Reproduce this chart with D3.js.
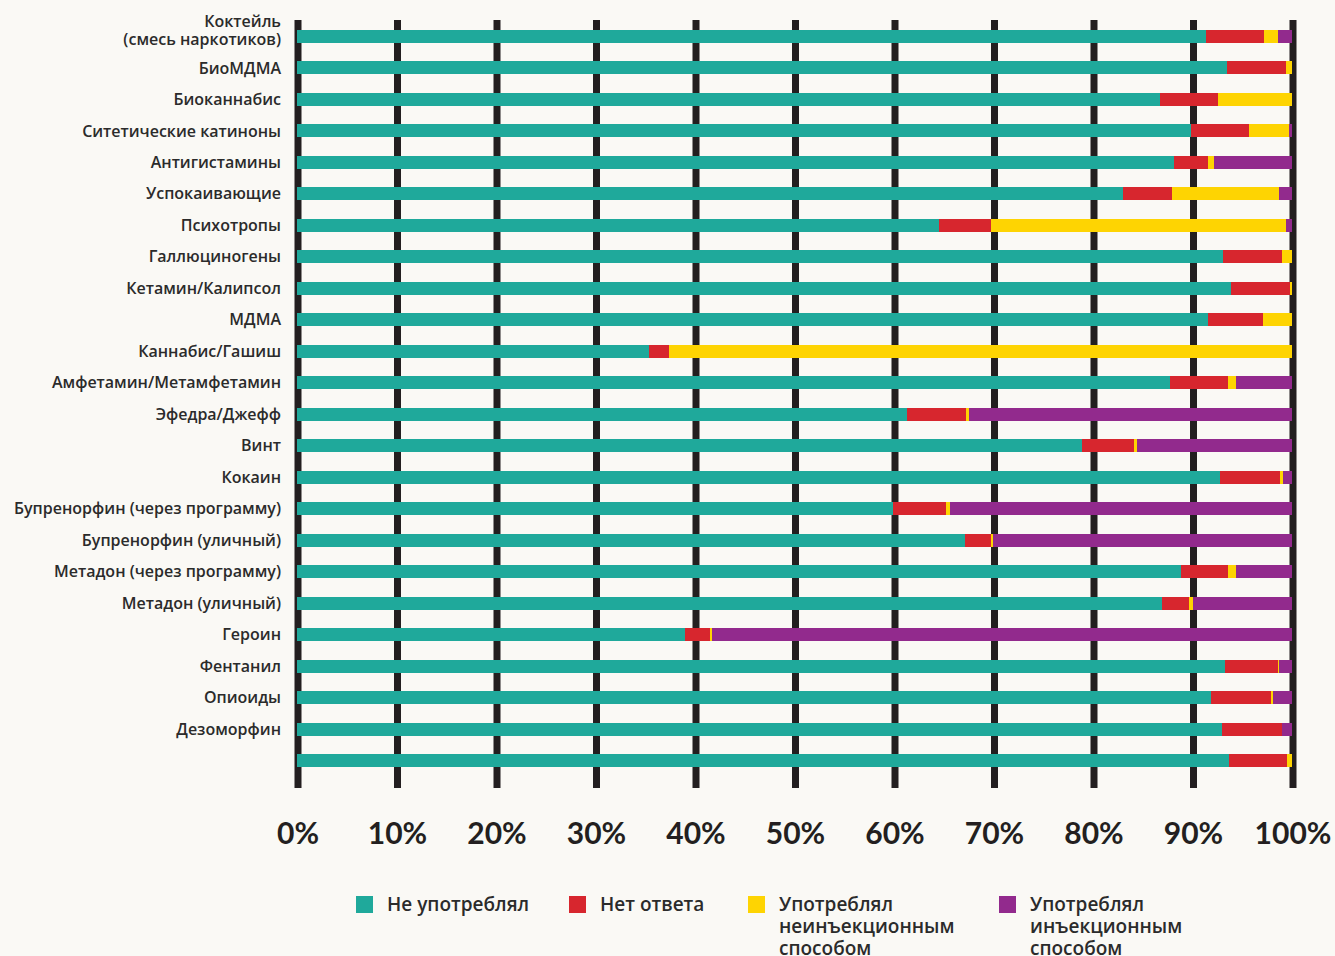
<!DOCTYPE html>
<html>
<head>
<meta charset="utf-8">
<script src="https://cdn.jsdelivr.net/npm/d3@7"></script>
<style>
  html, body { margin: 0; padding: 0; background: #faf9f5; }
  svg { display: block; }
</style>
</head>
<body>
<svg id="chart" width="1335" height="956"></svg>
<script>
// категории (последняя полоса в оригинале без подписи)
const categories = [
  "Коктейль\n(смесь наркотиков)", "БиоМДМА", "Биоканнабис", "Ситетические катиноны",
  "Антигистамины", "Успокаивающие", "Психотропы", "Галлюциногены",
  "Кетамин/Калипсол", "МДМА", "Каннабис/Гашиш", "Амфетамин/Метамфетамин",
  "Эфедра/Джефф", "Винт", "Кокаин", "Бупренорфин (через программу)",
  "Бупренорфин (уличный)", "Метадон (через программу)", "Метадон (уличный)",
  "Героин", "Фентанил", "Опиоиды", "Дезоморфин", ""
];

// значения в процентах
const notUsed    = [91.4, 93.5, 86.7, 89.8, 88.1, 83.0, 64.5, 93.1, 93.9, 91.6, 35.4, 87.7, 61.3, 78.9, 92.8, 59.9, 67.1, 88.8, 86.9, 39.0, 93.3, 91.9, 93.0, 93.7];
const noAnswer   = [5.8, 5.9, 5.9, 5.9, 3.5, 4.9, 5.2, 5.9, 5.9, 5.5, 2.0, 5.9, 5.9, 5.2, 6.0, 5.3, 2.6, 4.8, 2.7, 2.5, 5.3, 6.0, 6.0, 5.8];
const nonInject  = [1.4, 0.6, 7.4, 4.0, 0.6, 10.8, 29.7, 1.0, 0.2, 2.9, 62.6, 0.8, 0.3, 0.3, 0.3, 0.4, 0.2, 0.8, 0.4, 0.2, 0.1, 0.2, 0.0, 0.5];
const injected   = [1.4, 0.0, 0.0, 0.3, 7.8, 1.3, 0.6, 0.0, 0.0, 0.0, 0.0, 5.6, 32.5, 15.6, 0.9, 34.4, 30.1, 5.6, 10.0, 58.3, 1.3, 1.9, 1.0, 0.0];

const seriesNames = ["Не употреблял", "Нет ответа", "Употреблял неинъекционным способом", "Употреблял инъекционным способом"];
const seriesLegend = [["Не употреблял"], ["Нет ответа"], ["Употреблял", "неинъекционным", "способом"], ["Употреблял", "инъекционным", "способом"]];
const seriesColors = ["#1fa99b", "#d7262e", "#fed402", "#922a8d"];
const tickValues = [0, 10, 20, 30, 40, 50, 60, 70, 80, 90, 100];

const svg = d3.select("#chart");
const ink = "#231f20";

// таблица для stack
const rows = categories.map((c, i) => ({
  idx: i, name: c,
  s0: notUsed[i], s1: noAnswer[i], s2: nonInject[i], s3: injected[i]
}));
const keys = ["s0", "s1", "s2", "s3"];
const stacked = d3.stack().keys(keys)(rows);

// шкалы
const x = d3.scaleLinear().domain([0, 100]).range([297, 1292]);
const y = d3.scaleBand()
  .domain(d3.range(categories.length))
  .range([20.76, 776.24])
  .paddingInner(0.587)
  .paddingOuter(0.2935);

// сетка (толстые вертикальные линии) через ось
const axis = d3.axisBottom(x)
  .tickValues(tickValues)
  .tickSizeInner(-768)
  .tickSizeOuter(0)
  .tickPadding(35)
  .tickFormat(d => d + "%");

const gAxis = svg.append("g")
  .attr("transform", "translate(0.5,788)")
  .call(axis);
gAxis.select(".domain").remove();
gAxis.selectAll(".tick line")
  .attr("stroke", ink)
  .attr("stroke-width", 7);
gAxis.selectAll(".tick text")
  .attr("fill", ink)
  .style("font-family", "Lato, 'Open Sans', sans-serif")
  .style("font-weight", 700)
  .style("font-size", "30px");

// полосы
const layers = svg.append("g")
  .selectAll("g")
  .data(stacked)
  .enter()
  .append("g")
  .attr("fill", (d, i) => seriesColors[i]);

layers.selectAll("rect")
  .data(d => d)
  .enter()
  .append("rect")
  .attr("x", d => x(d[0]))
  .attr("y", d => y(d.data.idx))
  .attr("width", d => Math.max(0, x(d[1]) - x(d[0])))
  .attr("height", y.bandwidth())
  .attr("shape-rendering", "crispEdges");

// подписи категорий
const labels = svg.append("g")
  .selectAll("text")
  .data(rows)
  .enter()
  .append("text")
  .attr("x", 281)
  .attr("y", d => y(d.idx) + y.bandwidth() / 2 - (d.name.includes("\n") ? 6.5 : 0))
  .attr("text-anchor", "end")
  .attr("fill", "#2b2b2b")
  .style("font-family", "'Open Sans', sans-serif")
  .style("font-weight", 600)
  .style("font-size", "16px");

labels.each(function (d) {
  const lines = d.name.split("\n");
  const t = d3.select(this);
  lines.forEach((ln, k) => {
    t.append("tspan")
      .attr("x", 281)
      .attr("dy", k === 0 ? ((0.35 - (lines.length - 1) * 0.5625) + "em") : "1.125em")
      .text(ln);
  });
});

// легенда
const legendX = [356, 569, 748, 999];
const legend = svg.append("g")
  .selectAll("g")
  .data(seriesNames)
  .enter()
  .append("g")
  .attr("transform", (d, i) => `translate(${legendX[i]},896)`);

legend.append("rect")
  .attr("width", 17)
  .attr("height", 17)
  .attr("fill", (d, i) => seriesColors[i]);

legend.append("text")
  .attr("x", 31)
  .attr("y", 15)
  .attr("fill", "#2b2b2b")
  .style("font-family", "'Open Sans', sans-serif")
  .style("font-weight", 600)
  .style("font-size", "19px")
  .each(function (d, i) {
    const t = d3.select(this);
    seriesLegend[i].forEach((ln, k) => {
      t.append("tspan")
        .attr("x", 31)
        .attr("dy", k === 0 ? 0 : 22)
        .text(ln);
    });
  });
</script>
</body>
</html>
